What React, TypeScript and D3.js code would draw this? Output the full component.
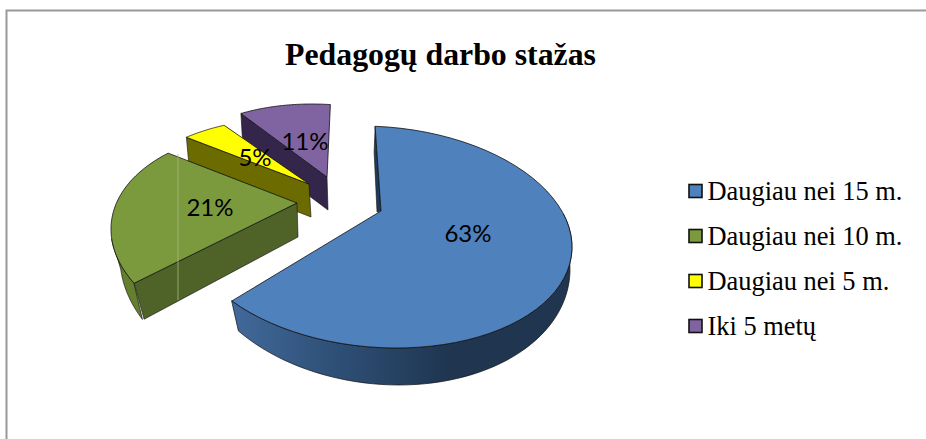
import React from "react";
import * as d3 from "d3";

const titleText = "Pedagogų darbo stažas";
const categories = ["Daugiau nei 15 m.", "Daugiau nei 10 m.", "Daugiau nei 5 m.", "Iki 5 metų"];
const shares = [63, 21, 5, 11];
const labels = ["63%", "21%", "5%", "11%"];
const topColors = ["#4f81bd", "#7b9a3d", "#ffff00", "#8064a2"];
const cutColors = ["#1f3a5c", "#4f6228", "#6b6b00", "#33264a"];
const rimColors = ["url(#blueWall)", "#64802f", "#6b6b00", "#33264a"];

// projected geometry of each exploded slice
const layout = [
  { apex: [381, 211], cdx: -2, cdy: 26, rx: 193, ry: 111, adj: [-0.02, 0.05], rimDrop: [-1, 26], apexDrop: [-4, 1], rimSpan: [-0.3, 2.44], low: [3, 21, 188, 127], label: [468, 234] },
  { apex: [297, 203], cdx: 0, cdy: 36, rx: 186, ry: 110, adj: [0.25, 0.24], rimDrop: [10, 36], apexDrop: [1, 34], rimSpan: [2.64, 3.05], low: [5, 30, 182, 126], label: [210, 208] },
  { apex: [309, 184], cdx: 0, cdy: 26, rx: 180, ry: 92, adj: [0.256, 0.2], rimDrop: [3, 33], apexDrop: [2, 33], rimSpan: null, low: null, label: [255, 158] },
  { apex: [327, 177], cdx: 0, cdy: 26, rx: 170, ry: 99, adj: [0.16, 0.02], rimDrop: [2, 33], apexDrop: [1, 33], rimSpan: null, low: null, label: [305, 142] },
];
const skew = 0.09;
const pieAngles = d3.pie<number>().sort(null)(shares);

const line = d3.line<number[]>().x((p) => p[0]).y((p) => p[1]);

type L = (typeof layout)[number];
const topPoint = (l: L, a: number) => [
  l.apex[0] + l.cdx + l.rx * Math.cos(a),
  l.apex[1] + l.cdy + l.ry * Math.sin(a + skew),
];
const lowPoint = (l: L, a: number) => {
  const low = l.low as number[];
  return [
    l.apex[0] + l.cdx + low[0] + low[2] * Math.cos(a),
    l.apex[1] + l.cdy + low[1] + low[3] * Math.sin(a + skew),
  ];
};
const span = (a0: number, a1: number, n = 60) => d3.range(n + 1).map((i) => a0 + ((a1 - a0) * i) / n);

export default function App() {
  const order = [3, 2, 1, 0];
  return (
    <svg width={926} height={439} style={{ position: "fixed", left: 0, top: 0, display: "block", background: "#fff" }}>
      <defs>
        <linearGradient id="blueWall" gradientUnits="userSpaceOnUse" x1={232} x2={450} y1={0} y2={0}>
          <stop offset="0" stopColor="#41699a" />
          <stop offset="0.45" stopColor="#2f5178" />
          <stop offset="1" stopColor="#1f3550" />
        </linearGradient>
      </defs>
      <path d="M926,10.5H6.5V439" fill="none" stroke="#999" strokeWidth={2} />
      <text x={440.5} y={65} textAnchor="middle" fontFamily="'Liberation Serif'" fontWeight="bold" fontSize={31.8} fill="#000">
        {titleText}
      </text>
      {order.map((i) => {
        const l = layout[i];
        const d = pieAngles[i];
        const a0 = d.startAngle - Math.PI / 2 + l.adj[0];
        const a1 = d.endAngle - Math.PI / 2 + l.adj[1];
        const arc = span(a0, a1).map((a) => topPoint(l, a));
        const corner = arc[0];
        const cut = [
          l.apex,
          corner,
          [corner[0] + l.rimDrop[0], corner[1] + l.rimDrop[1]],
          [l.apex[0] + l.apexDrop[0], l.apex[1] + l.apexDrop[1]],
        ];
        const rim = l.rimSpan
          ? [...span(l.rimSpan[0], l.rimSpan[1]).map((a) => topPoint(l, a)), ...span(l.rimSpan[1], l.rimSpan[0]).map((a) => lowPoint(l, a))]
          : null;
        return (
          <g key={categories[i]}>
            {rim && <path d={line(rim) + "Z"} fill={rimColors[i]} stroke="#111" strokeWidth={0.7} strokeLinejoin="round" />}
            <path d={line(cut) + "Z"} fill={cutColors[i]} stroke="#111" strokeWidth={0.6} strokeLinejoin="round" />
            <path d={line([l.apex, ...arc]) + "Z"} fill={topColors[i]} stroke="#111" strokeWidth={0.8} strokeLinejoin="round" />
          </g>
        );
      })}
      <line x1={178} x2={178} y1={154} y2={300} stroke="#a9ba82" strokeWidth={0.8} />
      {labels.map((t, i) => (
        <text key={t} x={layout[i].label[0]} y={layout[i].label[1] + 8} textAnchor="middle" fontFamily="Lato" fontSize={24} fill="#000">
          {t}
        </text>
      ))}
      {categories.map((c, i) => {
        const y = 191 + i * 45;
        return (
          <g key={c}>
            <rect x={689} y={y - 6.5} width={13} height={13} fill={topColors[i]} stroke="#111" strokeWidth={1.6} />
            <text x={707.5} y={y + 9} fontFamily="'Liberation Serif'" fontSize={26.4} fill="#000">
              {c}
            </text>
          </g>
        );
      })}
    </svg>
  );
}
